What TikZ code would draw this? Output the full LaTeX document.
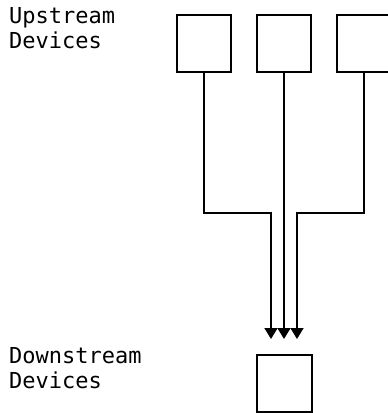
\documentclass[tikz,border=0pt]{standalone}
\usepackage{fontspec}
\setmonofont{DejaVu Sans Mono}
\usetikzlibrary{arrows.meta}
\begin{document}
\begin{tikzpicture}[x=1pt,y=-1pt,
  devbox/.style={draw,line width=1.6pt,minimum width=54pt,minimum height=57pt,inner sep=0pt},
  conn/.style={line width=1.6pt},
  lbl/.style={anchor=base west,inner sep=0pt,font=\ttfamily\fontsize{22}{25}\selectfont},
  tip/.style={-{Triangle[length=11pt,width=13pt]}}]
\useasboundingbox (0,0) rectangle (388,413);
\node[lbl] (up1) at (9,23) {Upstream};
\node[lbl] (up2) at (9,48) {Devices};
\node[lbl] (dn1) at (9,363) {Downstream};
\node[lbl] (dn2) at (9,388) {Devices};
\node[devbox] (b1) at (204,43.5) {};
\node[devbox] (b2) at (284,43.5) {};
\node[devbox] (b3) at (364,43.5) {};
\node[devbox,minimum width=55pt] (d) at (284.5,383.5) {};
\coordinate (k1) at (204,213);
\coordinate (k3) at (364,213);
\coordinate (t1) at (271,339);
\coordinate (t2) at (284,339);
\coordinate (t3) at (297,339);
\draw[conn,tip] (b1.south) -- (k1) -| (t1);
\draw[conn,tip] (b2.south) -- (t2);
\draw[conn,tip] (b3.south) -- (k3) -| (t3);
\end{tikzpicture}
\end{document}
